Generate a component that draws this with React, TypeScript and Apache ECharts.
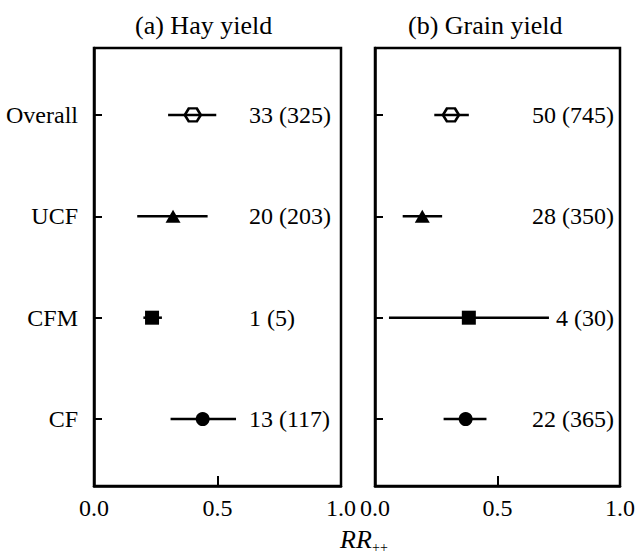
import React, { useEffect, useRef } from "react";
import * as echarts from "echarts";

const categories = ["Overall", "UCF", "CFM", "CF"];
const panelTitles = ["(a) Hay yield", "(b) Grain yield"];

// Hay yield
const hayMean = [0.4, 0.32, 0.235, 0.44];
const hayLow = [0.3, 0.175, 0.2, 0.31];
const hayHigh = [0.495, 0.46, 0.275, 0.575];
const hayCounts = ["33 (325)", "20 (203)", "1 (5)", "13 (117)"];

// Grain yield
const grainMean = [0.31, 0.193, 0.383, 0.37];
const grainLow = [0.242, 0.113, 0.057, 0.28];
const grainHigh = [0.383, 0.274, 0.71, 0.455];
const grainCounts = ["50 (745)", "28 (350)", "4 (30)", "22 (365)"];

const xTicks = [0, 0.5, 1];
const axisName = "RR";
const axisSub = "++";

const FONT = "'Liberation Serif', 'Times New Roman', serif";
const HEX = "path://M-1 0 L-0.5 -0.866 L0.5 -0.866 L1 0 L0.5 0.866 L-0.5 0.866 Z";
const markerSymbols = [HEX, "triangle", "rect", "circle"];
const markerSizes: any[] = [[16, 13], [15, 13], 14, 14];

const rowY = (i: number) => categories.length - i;

export default function App() {
  const ref = useRef<HTMLDivElement>(null);
  useEffect(() => {
    if (!ref.current) return;
    const chart = echarts.init(ref.current, null, { renderer: "svg" });
    const grids = [
      { left: 94, top: 48, width: 247, height: 438 },
      { left: 375, top: 48, width: 248, height: 438 },
    ];
    const panels = [
      { mean: hayMean, low: hayLow, high: hayHigh, counts: hayCounts, dist: 92, align: "left" },
      { mean: grainMean, low: grainLow, high: grainHigh, counts: grainCounts, dist: 6, align: "right" },
    ];
    const series: any[] = [];
    panels.forEach((p, k) => {
      series.push({
        type: "custom",
        xAxisIndex: k,
        yAxisIndex: k,
        encode: { x: [0, 1], y: 2 },
        clip: false,
        data: categories.map((_, i) => [p.low[i], p.high[i], rowY(i)]),
        renderItem: (params: any, api: any) => {
          const y = api.value(2);
          const a = api.coord([api.value(0), y]);
          const b = api.coord([api.value(1), y]);
          return {
            type: "line",
            shape: { x1: a[0], y1: a[1], x2: b[0], y2: b[1] },
            style: { stroke: "#000", lineWidth: 2.5 },
          };
        },
        z: 2,
      });
      series.push({
        type: "scatter",
        xAxisIndex: k,
        yAxisIndex: k,
        clip: false,
        z: 3,
        emphasis: { disabled: true },
        data: categories.map((_, i) => ({
          value: [p.mean[i], rowY(i)],
          symbol: markerSymbols[i],
          symbolSize: markerSizes[i],
          itemStyle:
            i === 0
              ? { color: "transparent", borderColor: "#000", borderWidth: 2.5, opacity: 1 }
              : { color: "#000", opacity: 1 },
        })),
      });
      series.push({
        type: "scatter",
        xAxisIndex: k,
        yAxisIndex: k,
        clip: false,
        symbolSize: 0,
        z: 4,
        itemStyle: { opacity: 1, color: "#000" },
        data: categories.map((_, i) => ({ value: [1, rowY(i)], name: p.counts[i] })),
        label: {
          show: true,
          position: "left",
          distance: p.dist,
          align: p.align,
          formatter: "{b}",
          color: "#000",
          opacity: 1,
          fontFamily: FONT,
          fontSize: 24,
        },
        emphasis: { disabled: true },
      });
    });

    chart.setOption({
      animation: false,
      backgroundColor: "#fff",
      title: panelTitles.map((t, k) => ({
        text: t,
        left: k === 0 ? 130 : 403,
        top: 7,
        textStyle: { fontFamily: FONT, fontSize: 26, fontWeight: "normal", color: "#000" },
      })),
      grid: grids.map((g) => ({
        ...g,
        show: true,
        borderColor: "#000",
        borderWidth: 2.5,
        backgroundColor: "transparent",
      })),
      xAxis: grids.map((_, k) => ({
        type: "value",
        gridIndex: k,
        min: 0,
        max: 1,
        interval: 0.5,
        splitLine: { show: false },
        axisLine: { show: true, lineStyle: { color: "#000", width: 2.5 } },
        axisTick: {
          show: true,
          inside: true,
          length: 10,
          customValues: xTicks,
          lineStyle: { color: "#000", width: 2 },
        },
        axisLabel: {
          customValues: xTicks,
          formatter: (v: number) => v.toFixed(1),
          color: "#000",
          fontFamily: FONT,
          fontSize: 24,
          margin: 10,
          showMinLabel: true,
          showMaxLabel: true,
        },
      })),
      yAxis: grids.map((_, k) => ({
        type: "value",
        gridIndex: k,
        min: 0.34,
        max: 4.66,
        splitLine: { show: false },
        axisLine: { show: true, lineStyle: { color: "#000", width: 2.5 } },
        axisTick: {
          show: true,
          inside: true,
          length: 8,
          customValues: categories.map((_, i) => rowY(i)),
          lineStyle: { color: "#000", width: 2 },
        },
        axisLabel: {
          show: k === 0,
          customValues: categories.map((_, i) => rowY(i)),
          formatter: (v: number) => categories[categories.length - Math.round(v)] ?? "",
          color: "#000",
          fontFamily: FONT,
          fontSize: 24,
          margin: 16,
        },
      })),
      graphic: [
        {
          type: "text",
          x: 340,
          y: 539,
          style: {
            text: axisName,
            font: `italic 26px ${FONT}`,
            fill: "#000",
            textVerticalAlign: "middle",
          },
        },
        {
          type: "text",
          x: 372,
          y: 547,
          style: {
            text: axisSub,
            font: `14px ${FONT}`,
            fill: "#000",
            textVerticalAlign: "middle",
          },
        },
      ],
      series,
    });
    return () => chart.dispose();
  }, []);
  return (
    <div
      ref={ref}
      style={{ position: "fixed", left: 0, top: 0, width: 638, height: 558 }}
    />
  );
}
